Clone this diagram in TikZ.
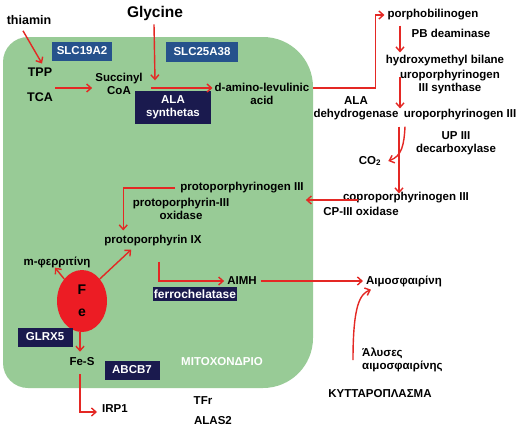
\documentclass[tikz,border=0pt]{standalone}
\usepackage{fontspec}
\setmainfont{Liberation Sans}
\usetikzlibrary{arrows.meta,shapes.geometric}
\definecolor{mitogruen}{RGB}{152,203,150}
\definecolor{pfeilrot}{RGB}{228,40,36}
\definecolor{boxblau}{RGB}{38,82,140}
\definecolor{boxnavy}{RGB}{26,26,78}
\definecolor{ferot}{RGB}{236,28,36}
\begin{document}
\begin{tikzpicture}[x=1pt, y=-1pt, font=\fontsize{11.5}{13}\selectfont\bfseries,
	txt/.style={align=center, inner sep=0pt},
	pfeil/.style={draw=pfeilrot, line width=1.4pt, -{Straight Barb[length=4.5pt,width=8pt]}},
	blaubox/.style={fill=boxblau, text=white, minimum height=19pt, inner sep=1pt},
	navybox/.style={fill=boxnavy, text=white, minimum height=19pt, inner sep=1pt, align=center}]
	\fill[white] (0,0) rectangle (520,429); % Hintergrund
	
	% Mitochondrium
	\fill[mitogruen] (3,200) [rounded corners=25pt] -- (3,37) [rounded corners=50pt] -- (313,37) -- (313,388) [rounded corners=25pt] -- (3,388) -- cycle;
	\node[txt, text=white] (mito) at (222,362) {ΜΙΤΟΧΟΝΔΡΙΟ};
	
	% Eingang
	\node[txt, font=\fontsize{12.5}{14}\selectfont\bfseries] (thiamin) at (29,20) {thiamin};
	\node[txt, font=\fontsize{15.5}{17}\selectfont\bfseries] (glycine) at (155,13) {Glycine};
	\node[blaubox, minimum width=60pt] (slca) at (82,51) {SLC19A2};
	\node[blaubox, minimum width=72pt, minimum height=20pt] (slcb) at (202,52) {SLC25A38};
	\node[txt, font=\fontsize{12.5}{14}\selectfont\bfseries] (tpp) at (40,72) {TPP};
	\node[txt, font=\fontsize{12.5}{14}\selectfont\bfseries] (tca) at (40,97) {TCA};
	\node[txt] (succinyl) at (119,84) {Succinyl\\CoA};
	\node[navybox, minimum width=76pt, minimum height=33pt] (alas) at (173,107) {ALA\\synthetas};
	\node[txt] (dala) at (262,94) {d-amino-levulinic\\acid};
	
	% Zytoplasma
	\coordinate (achse) at (400,0);
	\node[txt] (porpho) at (433,15) {porphobilinogen};
	\node[txt] (pbd) at (451,33) {PB deaminase};
	\node[txt] (hydroxy) at (445,61) {hydroxymethyl bilane};
	\node[txt] (uros) at (450,82) {uroporphyrinogen\\III synthase};
	\node[txt] (alad) at (356,108) {ALA\\dehydrogenase};
	\node[txt] (urogen) at (460,115) {uroporphyrinogen III};
	\node[txt] (upd) at (456,143) {UP III\\decarboxylase};
	\node[txt] (co2) at (370,161) {CO\textsubscript{2}};
	\node[txt] (copro) at (406,198) {coproporphyrinogen III};
	\node[txt] (cpox) at (361,211) {CP-III oxidase};
	
	% zurueck ins Mitochondrium
	\node[txt] (protogen) at (242,188) {protoporphyrinogen III};
	\node[txt] (ppox) at (181,209) {protoporphyrin-III\\oxidase};
	\node[txt] (protoix) at (153,241) {protoporphyrin IX};
	\node[txt] (ferri) at (57,262) {m-φερριτίνη};
	\node[ellipse, fill=ferot, inner sep=0pt, minimum width=50pt, minimum height=62pt, align=center,
		font=\fontsize{14}{22}\selectfont\bfseries] (fe) at (82,301) {F\\e};
	\node[txt] (aimh) at (242,281) {AIMH};
	\node[navybox, minimum width=84pt, minimum height=14pt, font=\fontsize{12}{13}\selectfont\bfseries] (fch) at (195,294) {ferrochelatase};
	\node[navybox, minimum width=55pt] (glrx) at (45,337) {GLRX5};
	\node[txt] (fes) at (82,362) {Fe-S};
	\node[navybox, minimum width=55pt] (abcb) at (132,370) {ABCB7};
	\node[txt] (irp) at (115,409) {IRP1};
	\node[txt] (tfr) at (203,401) {TFr};
	\node[txt] (alastwo) at (213,421) {ALAS2};
	\node[txt] (haemo) at (404,281) {Αιμοσφαιρίνη};
	\node[txt, align=left, anchor=west] (chains) at (362,360) {Άλυσες\\αιμοσφαιρίνης};
	\node[txt] (kytt) at (380,394) {ΚΥΤΤΑΡΟΠΛΑΣΜΑ};
	
	% Pfeile
	\draw[pfeil] ([xshift=-6pt,yshift=-6pt]thiamin.south) -- ([xshift=2pt,yshift=4pt]tpp.north);
	\draw[pfeil] ([xshift=2pt,yshift=9pt]tca.east) -- ([xshift=-3pt,yshift=-4pt]succinyl.west);
	\draw[pfeil] ([xshift=-1pt,yshift=-4pt]glycine.south) -- ([yshift=10pt]alas.north -| glycine.south);
	\draw[pfeil] ([xshift=8pt,yshift=-4pt]succinyl.east) -- ([xshift=-2pt,yshift=6pt]dala.west);
	\draw[pfeil] ([xshift=4pt,yshift=6pt]dala.east) -| ([xshift=-12pt]porpho.west) -- ([xshift=-3pt]porpho.west);
	\draw[pfeil] ([yshift=-5pt]achse |- porpho.south) -- ([yshift=3pt]achse |- hydroxy.north);
	\draw[pfeil] ([yshift=-10pt]achse |- hydroxy.south) -- ([yshift=1pt]achse |- urogen.north);
	\draw[pfeil] ([xshift=-1pt,yshift=-6pt]achse |- urogen.south) -- ([xshift=-1pt,yshift=-1pt]achse |- copro.north);
	\draw[pfeil] ([xshift=5pt,yshift=-6pt]achse |- urogen.south) .. controls (404,145) and (402,156) .. ([xshift=7pt]co2.east);
	\draw[pfeil] ([xshift=15pt,yshift=-2pt]copro.west) -- ([xshift=2pt,yshift=-12pt]protogen.east);
	\draw[pfeil] ([xshift=-5pt]protogen.west) -| ([xshift=19pt,yshift=5pt]protoix.north west);
	\draw[pfeil] (fe.north west) -- ([xshift=-2pt]ferri.south);
	\draw[pfeil] (fe.north east) -- ([xshift=27pt,yshift=-3pt]protoix.south west);
	\draw[pfeil] ([xshift=6pt,yshift=-15pt]protoix.south) |- ([xshift=-3pt]aimh.west);
	\draw[pfeil] ([xshift=4pt]aimh.east) -- ([xshift=-3pt]haemo.west);
	\draw[pfeil] ([xshift=-9pt]chains.west) .. controls (353,305) and (360,294) .. ([xshift=5pt,yshift=-3pt]haemo.south west);
	\draw[pfeil] ([xshift=-2pt]fe.south) -- ([xshift=-2pt,yshift=6pt]fes.north);
	\draw[pfeil] ([xshift=-2pt,yshift=-8pt]fes.south) |- ([xshift=-5pt,yshift=-3pt]irp.west);
\end{tikzpicture}
\end{document}
